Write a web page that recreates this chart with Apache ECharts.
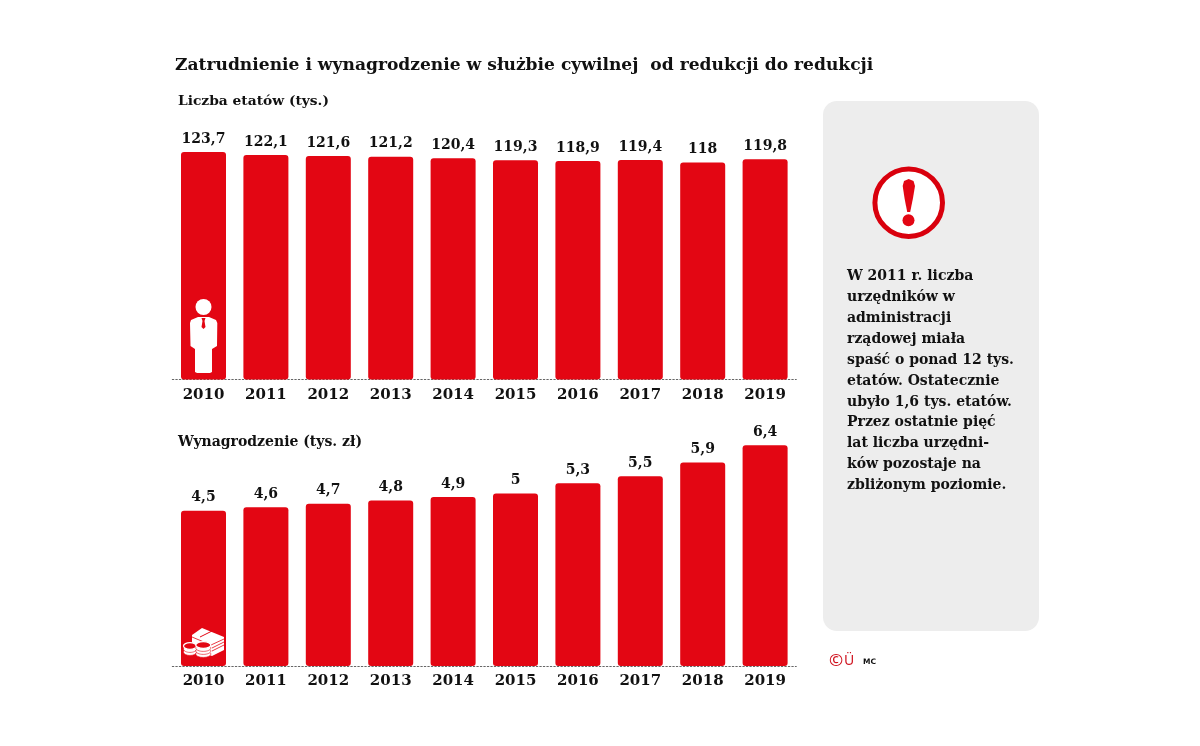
<!DOCTYPE html>
<html>
<head>
<meta charset="utf-8">
<script src="https://cdn.jsdelivr.net/npm/echarts@6/dist/echarts.min.js"></script>
<style>
html, body { margin: 0; background: #fff; }
#chart { width: 1200px; height: 746px; }
</style>
</head>
<body>
<div id="chart"></div>
<script>
const years = ['2010','2011','2012','2013','2014','2015','2016','2017','2018','2019'];
const etaty = [123.7, 122.1, 121.6, 121.2, 120.4, 119.3, 118.9, 119.4, 118, 119.8];
const wynagrodzenie = [4.5, 4.6, 4.7, 4.8, 4.9, 5, 5.3, 5.5, 5.9, 6.4];
const note = [
  'W 2011 r. liczba', 'urzędników w', 'administracji', 'rządowej miała',
  'spaść o ponad 12 tys.', 'etatów. Ostatecznie', 'ubyło 1,6 tys. etatów.',
  'Przez ostatnie pięć', 'lat liczba urzędni-', 'ków pozostaje na', 'zbliżonym poziomie.'
];

const serif = '"DejaVu Serif", serif';
const red = '#e30613';
const myChart = echarts.init(document.getElementById('chart'));

function comma(p) {
  return String(p.value).replace('.', ',');
}

function barSeries(idx, data) {
  return {
    type: 'bar',
    xAxisIndex: idx,
    yAxisIndex: idx,
    data: data,
    barWidth: 45,
    itemStyle: { color: red, borderRadius: 3 },
    label: {
      show: true,
      position: 'top',
      distance: 6,
      formatter: comma,
      fontFamily: serif,
      fontWeight: 'bold',
      fontSize: 14,
      color: '#111'
    }
  };
}

function xAxis(idx) {
  return {
    type: 'category',
    gridIndex: idx,
    data: years,
    axisTick: { show: false },
    axisLine: { lineStyle: { color: '#666', type: [1.5, 2], width: 1 } },
    axisLabel: { fontFamily: serif, fontWeight: 'bold', fontSize: 15, color: '#111', margin: 8 }
  };
}

function textEl(x, y, text, size, color, family, weight) {
  return {
    type: 'text',
    x: x,
    y: y,
    z: 5,
    style: {
      text: text,
      fill: color || '#111',
      font: (weight || 'bold') + ' ' + size + 'px ' + (family || serif),
      textVerticalAlign: 'middle'
    }
  };
}

// ludzik na pierwszym slupku
const man = [
  { type: 'circle', shape: { cx: 203.5, cy: 307, r: 8 }, style: { fill: '#fff' }, z: 5 },
  { type: 'polygon', z: 5, style: { fill: '#fff' }, shape: { points: [
    [198, 317], [209, 317], [216, 320], [217.3, 323], [217, 346], [212, 349], [212, 372],
    [210, 373], [197, 373], [195, 372], [195, 349], [190.5, 346], [190, 323], [191, 320]
  ] } },
  { type: 'polygon', z: 6, style: { fill: red }, shape: { points: [
    [201.5, 318], [205.5, 318], [204.5, 321], [205.5, 327], [203.5, 329], [201.5, 327], [202.5, 321]
  ] } }
];

// banknoty i monety
function coinStack(cx, top, n, rx) {
  const els = [];
  for (let i = n - 1; i >= 0; i--) {
    els.push({ type: 'ellipse', z: 6, shape: { cx: cx, cy: top + i * 3, rx: rx, ry: 3.4 },
      style: { fill: i === 0 ? red : '#fff', stroke: i === 0 ? '#fff' : red, lineWidth: i === 0 ? 1.2 : 0.6 } });
  }
  return els;
}
const money = [
  { type: 'polygon', z: 5, style: { fill: '#fff' }, shape: { points: [
    [192, 635], [202, 628], [224, 637], [224, 650], [212, 656], [192, 648]
  ] } },
  { type: 'polyline', z: 5, style: { stroke: red, lineWidth: 0.8, fill: 'none' }, shape: { points: [[192, 637], [211, 645], [224, 639]] } },
  { type: 'polyline', z: 5, style: { stroke: red, lineWidth: 0.8, fill: 'none' }, shape: { points: [[212, 648], [224, 642]] } },
  { type: 'polyline', z: 5, style: { stroke: red, lineWidth: 0.8, fill: 'none' }, shape: { points: [[212, 651], [224, 645]] } },
  { type: 'line', z: 5, style: { stroke: red, lineWidth: 1 }, shape: { x1: 200, y1: 637, x2: 212, y2: 631 } }
].concat(coinStack(190, 646, 3, 6.5), coinStack(203.3, 645, 4, 7.5));

// wykrzyknik
const warning = [
  { type: 'circle', z: 2, shape: { cx: 908.7, cy: 202.7, r: 33.8 }, style: { fill: '#fff', stroke: '#d9000d', lineWidth: 5 } },
  { type: 'polygon', z: 3, style: { fill: red }, shape: { points: [
    [902.7, 186], [904, 181], [908.7, 179], [913.5, 181], [915, 186], [913, 198], [910.2, 212], [907.2, 212], [904.5, 198]
  ] } },
  { type: 'circle', z: 3, shape: { cx: 908.5, cy: 220.3, r: 6 }, style: { fill: red } }
];

const noteEls = note.map(function (line, i) {
  return textEl(847, 276.5 + i * 20.9, line, 14);
});

const option = {
  animation: false,
  backgroundColor: '#fff',
  grid: [
    { left: 172.3, width: 624, top: 140.5, height: 239 },
    { left: 172.3, width: 624, top: 424.5, height: 241.5 }
  ],
  xAxis: [xAxis(0), xAxis(1)],
  yAxis: [
    { type: 'value', gridIndex: 0, min: 0, max: 130, show: false },
    { type: 'value', gridIndex: 1, min: 0, max: 7, show: false }
  ],
  series: [barSeries(0, etaty), barSeries(1, wynagrodzenie)],
  graphic: [
    { type: 'rect', z: 1, shape: { x: 823, y: 101, width: 216, height: 530, r: 14 }, style: { fill: '#ededed' } },
    textEl(175, 65.5, 'Zatrudnienie i wynagrodzenie w służbie cywilnej  od redukcji do redukcji', 17.1),
    textEl(178, 101.5, 'Liczba etatów (tys.)', 13.8),
    textEl(178, 442.5, 'Wynagrodzenie (tys. zł)', 14),
    textEl(829, 661, '©', 17, '#d0121f', '"Noto Sans", sans-serif', 'normal'),
    textEl(844, 661, 'Ü', 14, '#d0121f', '"Noto Sans", sans-serif', 'normal'),
    textEl(863, 662, 'MC', 7.5, '#111', '"DejaVu Sans", sans-serif')
  ].concat(warning, noteEls, man, money)
};

myChart.setOption(option);
</script>
</body>
</html>
